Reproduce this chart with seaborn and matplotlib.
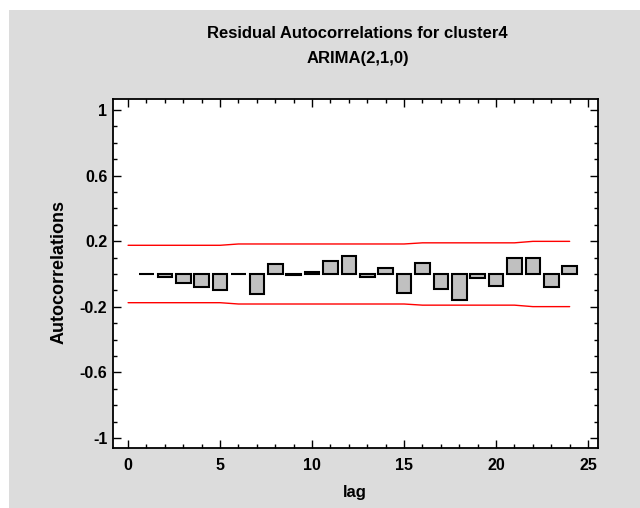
import matplotlib
matplotlib.use("Agg")
import matplotlib.pyplot as plt
import seaborn as sns
import numpy as np
import pandas as pd
from matplotlib.patches import Rectangle
from matplotlib.ticker import MultipleLocator

# ---- data ----
lags = list(range(1, 25))
acf = [-0.003, -0.016, -0.053, -0.079, -0.100, -0.003, -0.124, 0.063,
       -0.004, 0.010, 0.081, 0.110, -0.018, 0.037, -0.116, 0.065,
       -0.090, -0.160, -0.026, -0.073, 0.100, 0.100, -0.081, 0.047]
limit_lags = list(range(0, 25))
upper_limit = [0.175] * 6 + [0.183] * 10 + [0.190] * 6 + [0.199] * 3
lower_limit = [-v for v in upper_limit]
title_lines = ["Residual Autocorrelations for cluster4", "ARIMA(2,1,0)"]
x_label = "lag"
y_label = "Autocorrelations"
x_ticks = [0, 5, 10, 15, 20, 25]
y_ticks = [1, 0.6, 0.2, -0.2, -0.6, -1]

sns.set_theme(style="white")
plt.rcParams['font.family'] = ['Liberation Sans', 'DejaVu Sans']
plt.rcParams['font.weight'] = 'bold'
plt.rcParams['text.color'] = 'black'
plt.rcParams['axes.labelcolor'] = 'black'
plt.rcParams['xtick.color'] = 'black'
plt.rcParams['ytick.color'] = 'black'

W, H = 640, 508
fig = plt.figure(figsize=(W / 100, H / 100), dpi=100)
fig.patch.set_facecolor("white")
fig.patches.append(Rectangle((9 / W, 0), 1 - 9 / W, 1 - 10 / H, transform=fig.transFigure,
                             facecolor="#dcdcdc", edgecolor="none", zorder=-10))

ax = fig.add_axes([113 / W, 1 - 448 / H, (598 - 113) / W, (448 - 99) / H])
ax.set_facecolor("white")

df = pd.DataFrame({"lag": lags, "acf": acf})
sns.barplot(data=df, x="lag", y="acf", native_scale=True, width=0.8,
            color="#c0c0c0", saturation=1, edgecolor="black", linewidth=1.5, ax=ax)
for b in ax.patches:
    b.set_facecolor("#c0c0c0")

lim = pd.DataFrame({"lag": limit_lags, "up": upper_limit, "lo": lower_limit})
sns.lineplot(data=lim, x="lag", y="up", color="#ff0000", linewidth=1.0, ax=ax)
sns.lineplot(data=lim, x="lag", y="lo", color="#ff0000", linewidth=1.0, ax=ax)

ax.set_xlim(-0.82, 25.54)
ax.set_ylim(-1.061, 1.067)
ax.set_xticks(x_ticks)
ax.set_yticks(y_ticks)
ax.set_xticklabels([str(t) for t in x_ticks], fontsize=11.5, fontweight="bold", color="black")
ax.set_yticklabels([f"{t:g}" for t in y_ticks], fontsize=11.5, fontweight="bold", color="black")
ax.xaxis.set_minor_locator(MultipleLocator(1))
ax.yaxis.set_minor_locator(MultipleLocator(0.1))
ax.tick_params(which="both", direction="in", top=True, right=True, bottom=True, left=True,
               colors="black", width=1.0)
ax.tick_params(which="major", length=6)
ax.tick_params(which="minor", length=3)
ax.tick_params(axis="y", which="major", pad=4)
ax.tick_params(axis="x", which="major", pad=7)
ax.set_xlabel("")
ax.set_ylabel("")
for s in ax.spines.values():
    s.set_visible(True)
    s.set_color("black")
    s.set_linewidth(1.3)

fig.text(357 / W, 1 - 34 / H, title_lines[0], ha="center", va="center", fontsize=12, fontweight="bold", color="black")
fig.text(358 / W, 1 - 58 / H, title_lines[1], ha="center", va="center", fontsize=12, fontweight="bold", color="black")
fig.text(355 / W, 1 - 492 / H, x_label, ha="center", va="center", fontsize=12, fontweight="bold", color="black")
fig.text(59 / W, 1 - 272 / H, y_label, ha="center", va="center", rotation=90, fontsize=13, fontweight="bold", color="black")

fig.savefig("out.png", dpi=100, facecolor=fig.get_facecolor())
